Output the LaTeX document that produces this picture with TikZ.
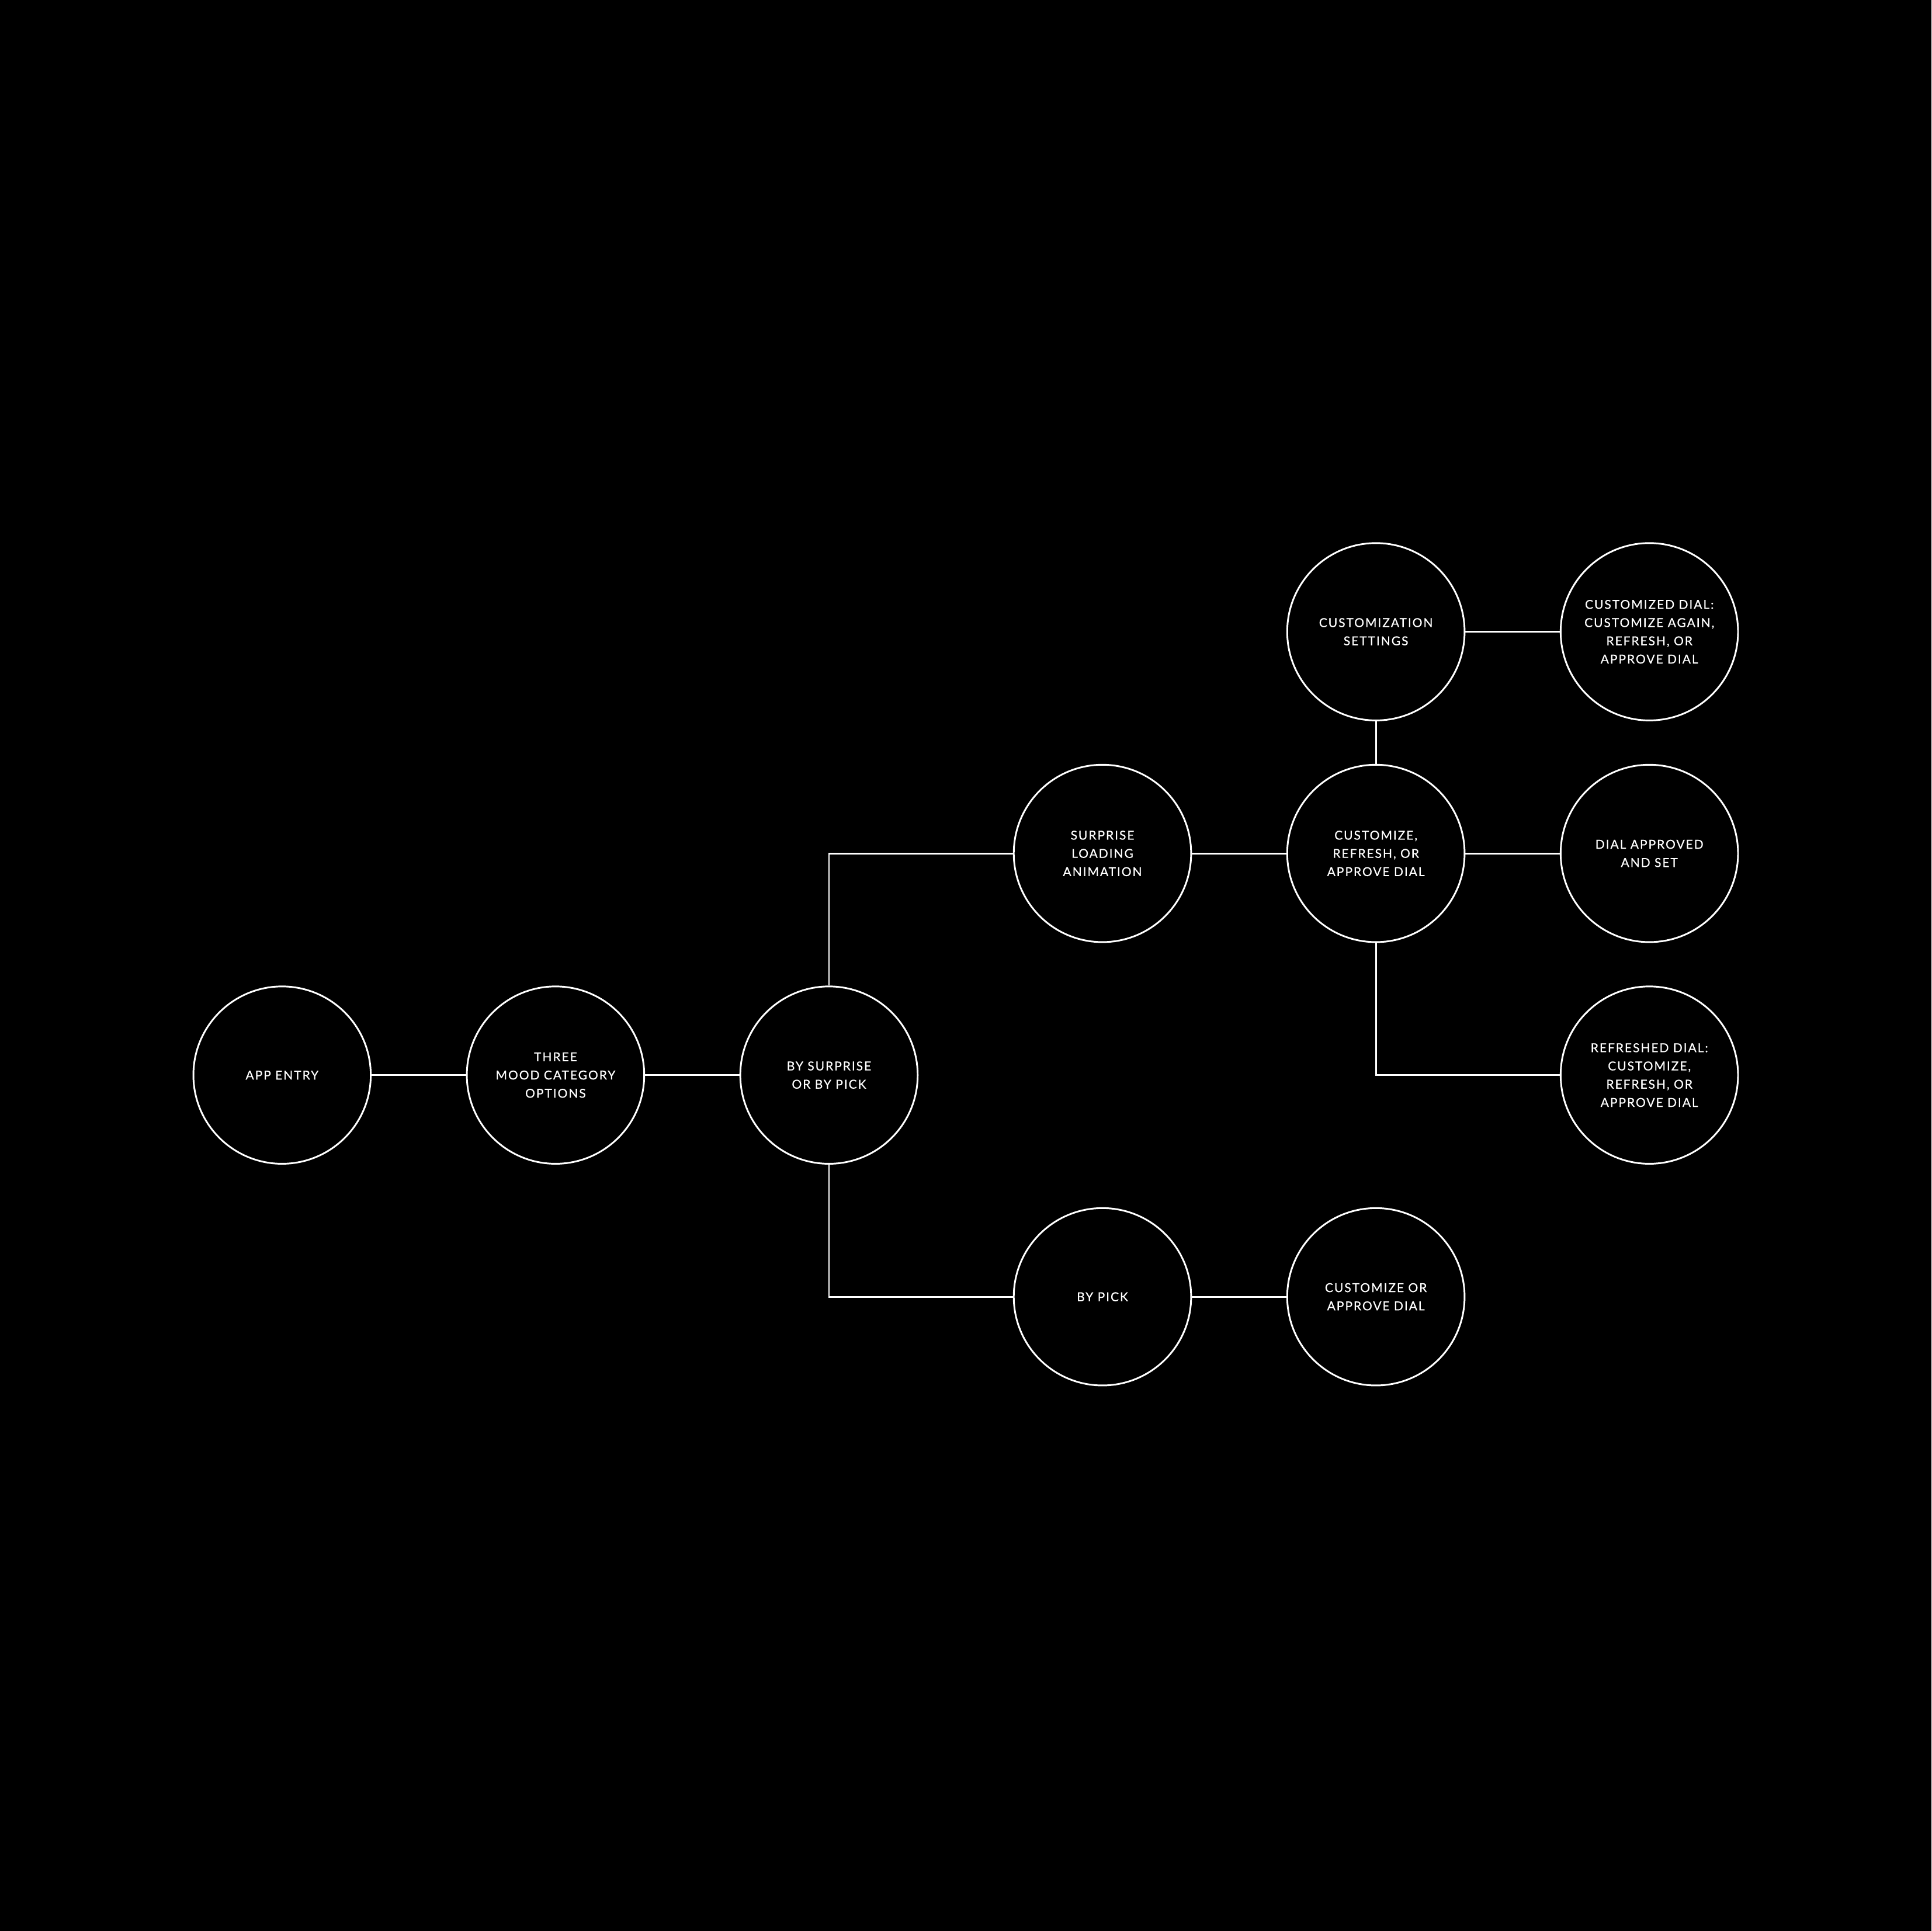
\documentclass[tikz,border=0pt]{standalone}
\usepackage{fontspec}
\setmainfont{Lato}[LetterSpace=9, FakeBold=0.5]
\usepackage{tikz}
\usetikzlibrary{positioning}

\begin{document}
\begin{tikzpicture}[
    x=222pt, y=180pt,
    step node/.style={circle, draw=white, line width=1.4pt, minimum size=144pt, inner sep=0pt,
        text=white, align=center, font=\fontsize{10}{14.8}\selectfont},
    link/.style={draw=white, line width=1.4pt}
]

% Background and margins
\fill[black] (-229pt,-695pt) rectangle (1339pt,873pt);
\useasboundingbox (-229pt,-695pt) rectangle (1339pt,873pt);

% Define node positions
\node[step node] (app) at (0, 0) {APP ENTRY};
\node[step node] (mood) at (1, 0) {THREE\\MOOD CATEGORY\\OPTIONS};
\node[step node] (choice) at (2, 0) {BY SURPRISE\\OR BY PICK};
\node[step node] (loading) at (3, 1) {SURPRISE\\LOADING\\ANIMATION};
\node[step node] (pick) at (3, -1) {BY PICK};
\node[step node] (customize) at (4, 1) {CUSTOMIZE,\\REFRESH, OR\\APPROVE DIAL};
\node[step node] (settings) at (4, 2) {CUSTOMIZATION\\SETTINGS};
\node[step node] (pickdial) at (4, -1) {CUSTOMIZE OR\\APPROVE DIAL};
\node[step node] (again) at (5, 2) {CUSTOMIZED DIAL:\\CUSTOMIZE AGAIN,\\REFRESH, OR\\APPROVE DIAL};
\node[step node] (approved) at (5, 1) {DIAL APPROVED\\AND SET};
\node[step node] (refreshed) at (5, 0) {REFRESHED DIAL:\\CUSTOMIZE,\\REFRESH, OR\\APPROVE DIAL};

% Draw connectors
\draw[link] (app) -- (mood);
\draw[link] (mood) -- (choice);
\draw[link] (choice.north) |- (loading.west);
\draw[link] (choice.south) |- (pick.west);
\draw[link] (loading) -- (customize);
\draw[link] (pick) -- (pickdial);
\draw[link] (customize) -- (settings);
\draw[link] (settings) -- (again);
\draw[link] (customize) -- (approved);
\draw[link] (customize.south) |- (refreshed.west);

\end{tikzpicture}
\end{document}
